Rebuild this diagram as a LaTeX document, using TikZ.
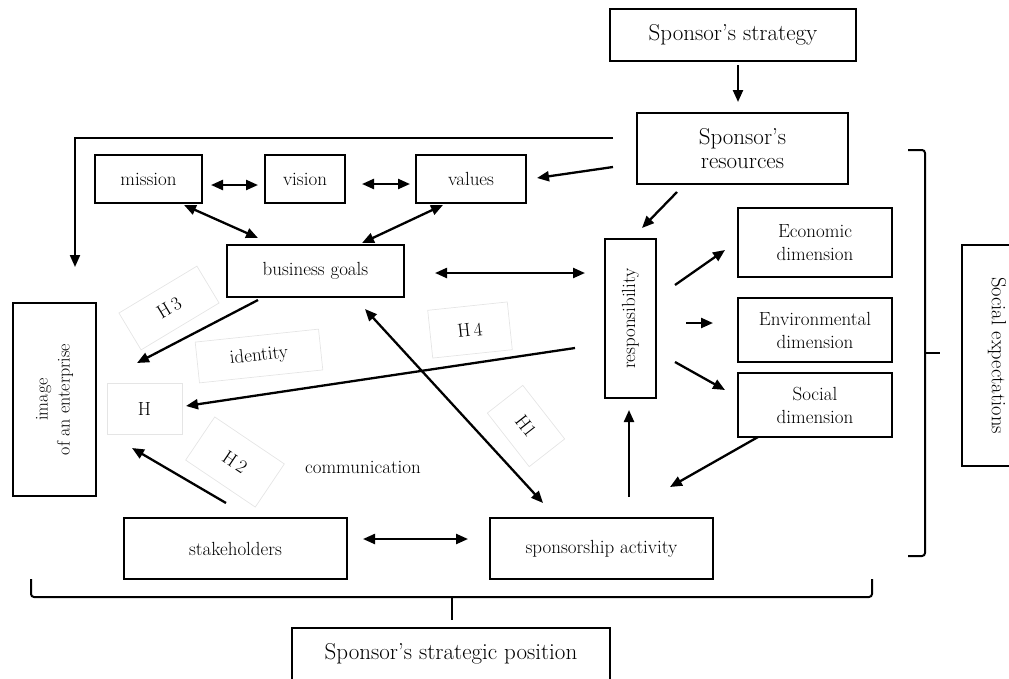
\documentclass[tikz,border=0pt]{standalone}
\usetikzlibrary{arrows.meta,calc}
\begin{document}
\begin{tikzpicture}[x=1pt,y=-1pt,
 box/.style={draw, line width=1.3pt, inner sep=0pt, align=center, font=\fontsize{19}{23}\selectfont},
 bigbox/.style={box, font=\fontsize{23}{24}\selectfont},
 arr/.style={line width=2.3pt, -{Triangle[length=12pt,width=10pt]}},
 darr/.style={line width=2.3pt, {Triangle[length=12pt,width=10pt]}-{Triangle[length=12pt,width=10pt]}},
 lbl/.style={font=\fontsize{19}{23}\selectfont, inner sep=0pt},
 faint/.style={draw=black!10, line width=0.7pt, inner sep=0pt, font=\fontsize{19}{23}\selectfont},
 brace/.style={line width=2pt, rounded corners=3pt}]
\useasboundingbox (0,0) rectangle (1009,678);

% boxes
\node[bigbox, minimum width=246, minimum height=52] (strat) at (733,35) {Sponsor’s strategy};
\node[bigbox, minimum width=211, minimum height=71] (res) at (742.5,148.5) {Sponsor’s\\resources};
\node[box, minimum width=107, minimum height=48] (mission) at (148.5,179) {mission};
\node[box, minimum width=80, minimum height=48] (vision) at (305,179) {vision};
\node[box, minimum width=110, minimum height=48] (values) at (471,179) {values};
\node[box, minimum width=177, minimum height=52] (bg) at (315.5,271) {business goals};
\node[box, rotate=90, minimum width=159, minimum height=51] (resp) at (630.5,318.5) {responsibility};
\node[box, minimum width=154, minimum height=69] (econ) at (815,242.5) {Economic\\dimension};
\node[box, minimum width=154, minimum height=64] (env) at (815,330) {Environmental\\dimension};
\node[box, minimum width=154, minimum height=64] (soc) at (815,405) {Social\\dimension};
\node[box, font=\fontsize{20.5}{24}\selectfont, rotate=-90, minimum width=221, minimum height=70] (socexp) at (997,355.5) {Social expectations};
\node[box, font=\fontsize{18}{22}\selectfont, rotate=90, minimum width=193, minimum height=83] (image) at (54.5,399.5) {image\\of an enterprise};
\node[box, minimum width=223, minimum height=61] (stake) at (235.5,548.5) {stakeholders};
\node[box, minimum width=223, minimum height=61] (spons) at (601.5,548.5) {sponsorship activity};
\node[box, font=\fontsize{23}{24}\selectfont, minimum width=318, minimum height=52] (pos) at (451,654) {Sponsor’s strategic position};

% faint label boxes
\node[faint, rotate=31, minimum width=91, minimum height=43] (h3) at (169,308) {H\,3};
\node[faint, rotate=6, minimum width=124, minimum height=41] (ident) at (259,356) {identity};
\node[faint, minimum width=75, minimum height=51] (h) at (144.5,409) {H};
\node[faint, rotate=-34, minimum width=84, minimum height=52] (h2) at (235,462) {H\,2};
\node[faint, rotate=6, minimum width=80, minimum height=48] (h4) at (470,330) {H\,4};
\node[faint, rotate=-52, minimum width=68, minimum height=45] (h1) at (526,426) {H1};
\node[lbl] (comm) at (363,467) {communication};

% connector end points
\coordinate (a1s) at (738,65);   \coordinate (a1e) at (738,102);
\coordinate (loopS) at (613,138); \coordinate (loopC) at (75,138); \coordinate (loopE) at (75,267);
\coordinate (a3s) at (613,167);  \coordinate (a3e) at (537,178);
\coordinate (a4s) at (677,192);  \coordinate (a4e) at (642,228);
\coordinate (a5s) at (211,185);  \coordinate (a5e) at (258,185);
\coordinate (a6s) at (362,184);  \coordinate (a6e) at (410,184);
\coordinate (a7s) at (184,205);  \coordinate (a7e) at (258,238);
\coordinate (a8s) at (443,205);  \coordinate (a8e) at (362,243);
\coordinate (a9s) at (435,273);  \coordinate (a9e) at (585,273);
\coordinate (a10s) at (675,285); \coordinate (a10e) at (725,250);
\coordinate (a11s) at (686,323); \coordinate (a11e) at (713,323);
\coordinate (a12s) at (675,362); \coordinate (a12e) at (725,390);
\coordinate (a13s) at (758,437); \coordinate (a13e) at (670,487);
\coordinate (a14s) at (629,497); \coordinate (a14e) at (629,410);
\coordinate (a15s) at (365,309); \coordinate (a15e) at (543,503);
\coordinate (a16s) at (575,348); \coordinate (a16e) at (186,406);
\coordinate (a17s) at (258,300); \coordinate (a17e) at (137,363);
\coordinate (a18s) at (226,503); \coordinate (a18e) at (132,448);
\coordinate (a19s) at (363,539); \coordinate (a19e) at (468,539);

\draw[arr] (a1s) -- (a1e);
\draw[arr, line width=2pt] (loopS) -- (loopC) -- (loopE);
\draw[arr] (a3s) -- (a3e);
\draw[arr] (a4s) -- (a4e);
\draw[darr] (a5s) -- (a5e);
\draw[darr] (a6s) -- (a6e);
\draw[darr] (a7s) -- (a7e);
\draw[darr] (a8s) -- (a8e);
\draw[darr] (a9s) -- (a9e);
\draw[arr] (a10s) -- (a10e);
\draw[arr] (a11s) -- (a11e);
\draw[arr] (a12s) -- (a12e);
\draw[arr] (a13s) -- (a13e);
\draw[arr] (a14s) -- (a14e);
\draw[darr] (a15s) -- (a15e);
\draw[arr] (a16s) -- (a16e);
\draw[arr] (a17s) -- (a17e);
\draw[arr] (a18s) -- (a18e);
\draw[darr] (a19s) -- (a19e);

% braces
\coordinate (rbT) at (908,150); \coordinate (rbB) at (908,556); \coordinate (rbTip) at (940,353);
\draw[brace] (rbT) -- (925,150) -- (925,556) -- (rbB);
\draw[line width=2pt] (925,353) -- (rbTip);
\coordinate (bbL) at (31,579); \coordinate (bbR) at (872,579); \coordinate (bbTip) at (452,620);
\draw[brace] (bbL) -- (31,597) -- (872,597) -- (bbR);
\draw[line width=2pt] (452,597) -- (bbTip);
\end{tikzpicture}
\end{document}
